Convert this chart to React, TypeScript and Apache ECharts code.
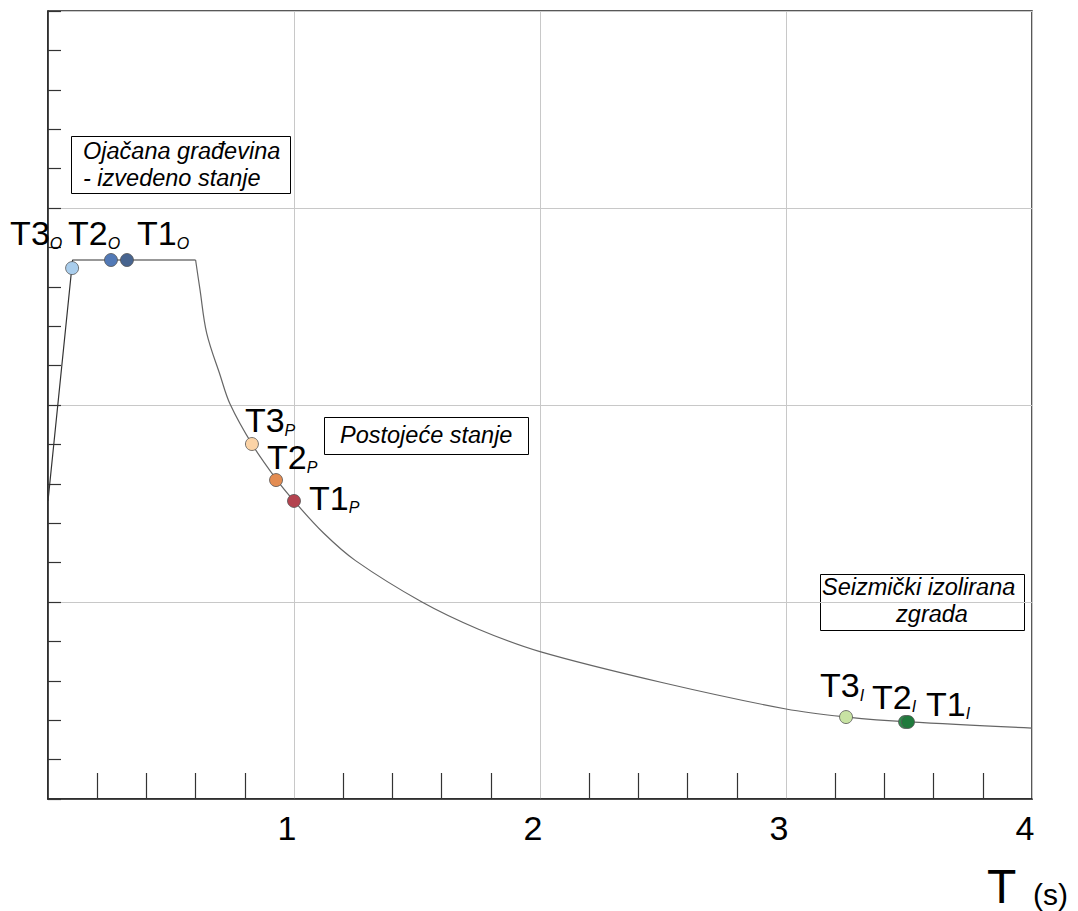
import React, { useEffect, useRef } from "react";
import * as echarts from "echarts";

// Spectrum: rising branch + plateau (T in s, Sa in chart units)
const riseT = [0, 0.1, 0.6];
const riseSa = [1.513, 2.736, 2.736];
// Descending branch
const fallT = [0.6, 0.618, 0.645, 0.7, 0.74, 0.83, 0.93, 1.0, 1.12, 1.25, 1.52, 1.75, 2.0, 2.5, 3.0, 3.25, 3.5, 4.0];
const fallSa = [2.736, 2.584, 2.365, 2.15, 2.005, 1.8, 1.62, 1.513, 1.35, 1.21, 1.0, 0.862, 0.748, 0.59, 0.457, 0.416, 0.391, 0.36];

// Periods of the three building states
const pointNames = ["T3", "T2", "T1", "T3", "T2", "T1", "T3", "T2", "T1"];
const pointSubs = ["O", "O", "O", "P", "P", "P", "I", "I", "I"];
const pointT = [0.098, 0.256, 0.321, 0.829, 0.927, 1.0, 3.244, 3.484, 3.496];
const pointSa = [2.695, 2.736, 2.736, 1.802, 1.619, 1.513, 0.416, 0.391, 0.391];

const xTicks = [0, 1, 2, 3, 4];

// styles
const pointColors = ["#a9cdec", "#5279b6", "#47648f", "#fbd3a6", "#e38c52", "#b4434f", "#c8e3a3", "#2f8c4c", "#1f7a3c"];
const labelOffsets: [number, number][] = [
  [-62, -35], [-43, -27], [10, -27],
  [-7, -24], [-9, -23], [15, -3],
  [-26, -32], [-33, -25], [18, -18],
];

const FONT = "'Liberation Sans', Arial, sans-serif";

export default function App() {
  const ref = useRef<HTMLDivElement>(null);
  useEffect(() => {
    if (!ref.current) return;
    const chart = echarts.init(ref.current, undefined, { renderer: "svg" });

    const scatterData = pointT.map((t, i) => ({
      value: [t, pointSa[i]],
      itemStyle: { color: pointColors[i] },
      label: {
        show: true,
        position: "inside",
        align: "left",
        verticalAlign: "middle",
        offset: labelOffsets[i],
        formatter: `{m|${pointNames[i]}}{s|${pointSubs[i]}}`,
        rich: {
          m: { fontSize: 34, fontFamily: FONT, color: "#000", lineHeight: 36 },
          s: { fontSize: 16, fontFamily: FONT, fontStyle: "italic", color: "#000", lineHeight: 24, verticalAlign: "bottom" },
        },
      },
    }));

    const boxText = (x: number, y: number, text: string, align = "left") => ({
      type: "text",
      x,
      y,
      style: {
        text,
        fontSize: 23.5,
        fontStyle: "italic",
        fontFamily: FONT,
        fill: "#000",
        align,
        verticalAlign: "middle",
      },
    });
    const boxRect = (x: number, y: number, w: number, h: number) => ({
      type: "rect",
      shape: { x: x + 0.5, y: y + 0.5, width: w, height: h },
      style: { fill: "none", stroke: "#000", lineWidth: 1 },
    });

    chart.setOption({
      animation: false,
      backgroundColor: "#fff",
      grid: { left: 48, top: 11, width: 984, height: 788, show: true, borderColor: "#222", borderWidth: 1.5, backgroundColor: "transparent" },
      xAxis: {
        type: "value",
        min: 0,
        max: 4,
        interval: 1,
        axisLine: { show: true, onZero: false, lineStyle: { color: "#222", width: 1.5 } },
        axisTick: { show: false, inside: true },
        minorTick: { show: true, splitNumber: 5, length: 26, lineStyle: { color: "#333", width: 1.2 } },
        splitLine: { show: true, lineStyle: { color: "#c8c8c8", width: 1 } },
        axisLabel: {
          fontSize: 34,
          fontFamily: FONT,
          color: "#000",
          margin: 12,
          padding: [0, 14, 0, 0],
          showMaxLabel: true,
          formatter: (v: number) => (xTicks.includes(v) && v !== 0 ? String(v) : ""),
        },
      },
      yAxis: {
        type: "value",
        min: 0,
        max: 4,
        interval: 1,
        axisLine: { show: true, onZero: false, lineStyle: { color: "#222", width: 1.5 } },
        axisTick: { show: true, inside: true, length: 13, lineStyle: { color: "#333", width: 1.2 } },
        minorTick: { show: true, splitNumber: 5, length: 13, lineStyle: { color: "#333", width: 1.2 } },
        splitLine: { show: true, lineStyle: { color: "#c8c8c8", width: 1 } },
        axisLabel: { show: false },
      },
      series: [
        {
          type: "line",
          data: riseT.map((t, i) => [t, riseSa[i]]),
          showSymbol: false,
          lineStyle: { color: "#333", width: 1.2 },
          z: 2,
        },
        {
          type: "line",
          data: fallT.map((t, i) => [t, fallSa[i]]),
          showSymbol: false,
          smooth: 0.35,
          lineStyle: { color: "#666", width: 1.2 },
          z: 2,
        },
        {
          type: "scatter",
          data: scatterData,
          symbol: "circle",
          symbolSize: 13,
          itemStyle: { borderColor: "#555", borderWidth: 0.8, opacity: 1 },
          z: 5,
        },
      ],
      graphic: [
        boxRect(71, 136, 219, 57),
        boxText(83, 151, "Ojačana građevina"),
        boxText(83, 177.5, "- izvedeno stanje"),
        boxRect(324, 417, 204, 37),
        boxText(340, 435, "Postojeće stanje"),
        boxRect(820, 574, 204, 56),
        boxText(822, 587, "Seizmički izolirana"),
        boxText(932, 614, "zgrada", "center"),
        {
          type: "text",
          x: 987,
          y: 886,
          style: { text: "T", fontSize: 48, fontFamily: FONT, fill: "#000", align: "left", verticalAlign: "middle" },
        },
        {
          type: "text",
          x: 1033,
          y: 894,
          style: { text: "(s)", fontSize: 30, fontFamily: FONT, fill: "#000", align: "left", verticalAlign: "middle" },
        },
      ],
    });
    return () => chart.dispose();
  }, []);
  return <div ref={ref} style={{ position: "fixed", left: 0, top: 0, width: 1078, height: 911 }} />;
}
